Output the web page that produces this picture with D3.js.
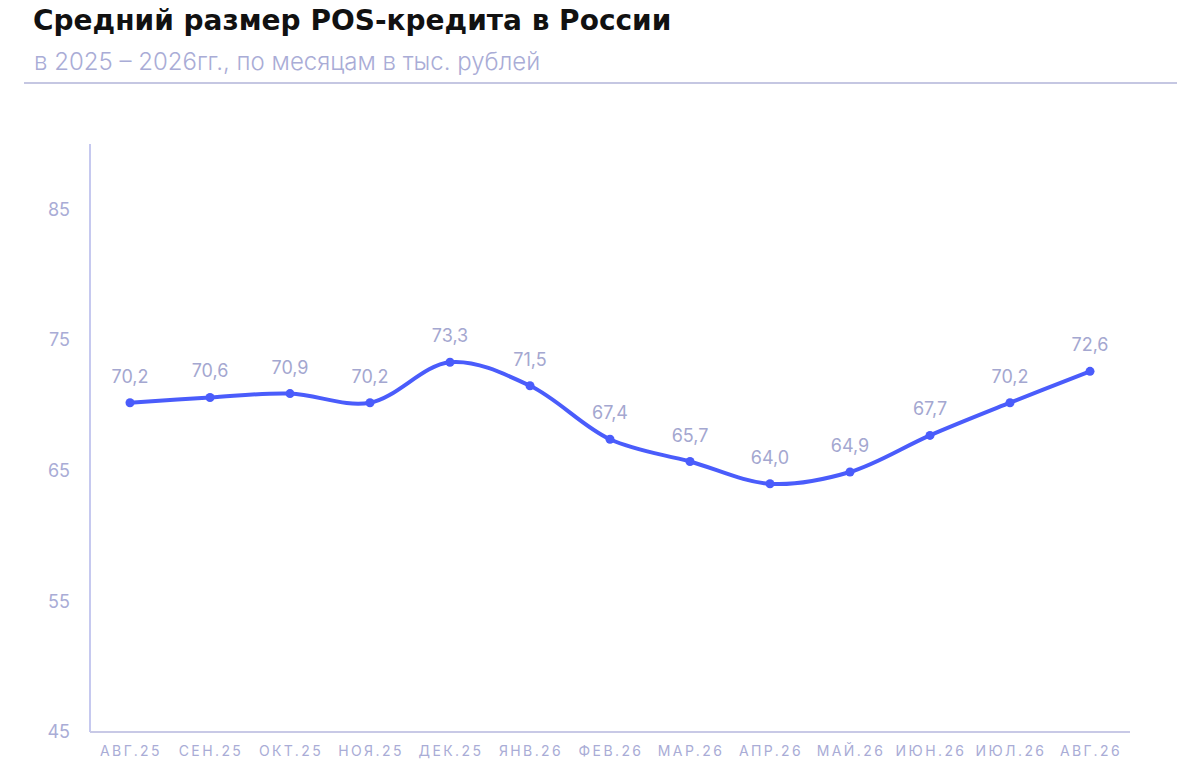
<!DOCTYPE html>
<html>
<head>
<meta charset="utf-8">
<script src="https://cdn.jsdelivr.net/npm/d3@7"></script>
<style>
  body { margin: 0; background: #fff; font-family: Inter, "Noto Sans", sans-serif; }
</style>
</head>
<body>
<div id="app"></div>
<script>
const months = ["АВГ.25", "СЕН.25", "ОКТ.25", "НОЯ.25", "ДЕК.25", "ЯНВ.26", "ФЕВ.26",
  "МАР.26", "АПР.26", "МАЙ.26", "ИЮН.26", "ИЮЛ.26", "АВГ.26"]
const values = [70.2, 70.6, 70.9, 70.2, 73.3, 71.5, 67.4, 65.7, 64.0, 64.9, 67.7, 70.2, 72.6]
const yTicks = [45, 55, 65, 75, 85]

const W = 1200, H = 780
const svg = d3.select("#app").append("svg").attr("width", W).attr("height", H)

// header
svg.append("text").attr("x", 33).attr("y", 30)
  .style("font-family", "DejaVu Sans").style("font-weight", 700).style("font-size", "28px")
  .style("fill", "#111").text("Средний размер POS-кредита в России")
svg.append("text").attr("x", 34).attr("y", 70)
  .style("font-family", "Inter").style("font-weight", 300).style("font-size", "24px")
  .style("fill", "#a9acd6").text("в 2025 – 2026гг., по месяцам в тыс. рублей")
svg.append("line").attr("x1", 24).attr("x2", 1177).attr("y1", 83).attr("y2", 83)
  .style("stroke", "#c5c7e2").style("stroke-width", 2)

const x = d3.scalePoint().domain(months).range([90, 1130]).padding(0.5)
const y = d3.scaleLinear().domain([45, 90]).range([732, 144])

// axes
svg.append("line").attr("x1", 90).attr("x2", 90).attr("y1", y(90)).attr("y2", y(45))
  .style("stroke", "#b3b7ea").style("stroke-width", 1.5)
svg.append("line").attr("x1", 90).attr("x2", 1130).attr("y1", y(45)).attr("y2", y(45))
  .style("stroke", "#c8c9e6").style("stroke-width", 2)

svg.selectAll(".ytick").data(yTicks).join("text")
  .attr("class", "ytick")
  .attr("x", 70).attr("y", d => y(d)).attr("dy", "0.35em")
  .attr("text-anchor", "end")
  .style("font-size", "18px").style("fill", "#a9acd6")
  .text(d => d)

svg.selectAll(".xtick").data(months).join("text")
  .attr("class", "xtick")
  .attr("x", d => x(d) + 1).attr("y", 756)
  .attr("text-anchor", "middle")
  .style("font-size", "14px").style("letter-spacing", "2.4px").style("fill", "#a9acd6")
  .text(d => d)

// line
const line = d3.line()
  .x((d, i) => x(months[i]))
  .y(d => y(d))
  .curve(d3.curveCatmullRom.alpha(0.5))

svg.append("path").datum(values)
  .attr("d", line)
  .style("fill", "none").style("stroke", "#4a5cfb").style("stroke-width", 4)
  .style("stroke-linecap", "round")

svg.selectAll(".dot").data(values).join("circle")
  .attr("class", "dot")
  .attr("cx", (d, i) => x(months[i])).attr("cy", d => y(d)).attr("r", 4.5)
  .style("fill", "#4a5cfb")

svg.selectAll(".val").data(values).join("text")
  .attr("class", "val")
  .attr("x", (d, i) => x(months[i])).attr("y", d => y(d) - 20)
  .attr("text-anchor", "middle")
  .style("font-size", "18px").style("fill", "#a4a7d0")
  .text(d => d.toFixed(1).replace(".", ","))
</script>
</body>
</html>
